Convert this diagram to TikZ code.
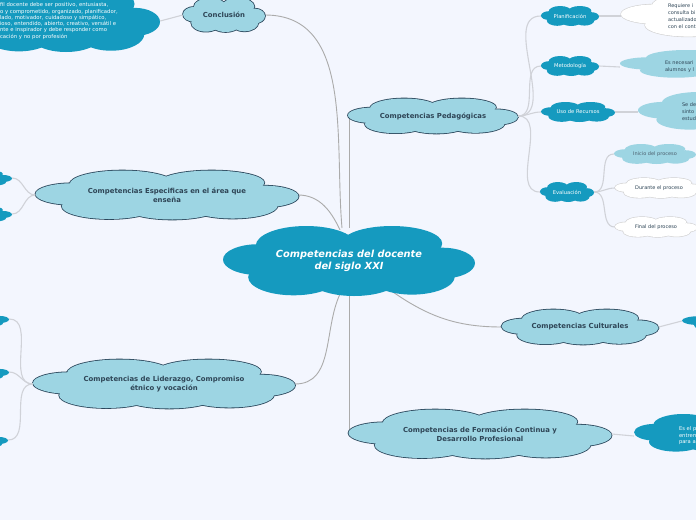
\documentclass[tikz,border=0pt]{standalone}
\usepackage{fontspec}
\setmainfont{DejaVu Sans}
\definecolor{bgc}{HTML}{F3F6FE}
\definecolor{darkc}{HTML}{159ABF}
\definecolor{lightc}{HTML}{9DD5E3}
\definecolor{edgec}{HTML}{2B475C}
\definecolor{textc}{HTML}{2E4556}
\definecolor{linec}{HTML}{ABABAB}
\definecolor{sublinec}{HTML}{D0D2D8}
% lobes of a cloud: centre x/centre y/x radius/y radius, in units of width and height
\def\puffs{0/0/0.40/0.30, -0.36/-0.02/0.14/0.22, 0.37/0.03/0.13/0.22,
  -0.17/-0.22/0.20/0.28, 0.17/-0.25/0.20/0.25,
  -0.22/0.23/0.18/0.26, 0.02/0.25/0.18/0.25, 0.25/0.22/0.17/0.26}
% \puffcloud{x}{y}{width}{height}{fill}{edge options}
\newcommand\puffcloud[6]{%
  \begin{scope}[shift={(#1,#2)}, x=#3pt, y=-#4pt]
    \foreach \cx/\cy/\rx/\ry in \puffs
      \path[#6] (\cx,\cy) ellipse [x radius=\rx, y radius=\ry];
    \foreach \cx/\cy/\rx/\ry in \puffs
      \path[fill=#5] (\cx,\cy) ellipse [x radius=\rx, y radius=\ry];
  \end{scope}}
\begin{document}
\begin{tikzpicture}[x=1pt,y=-1pt,
  rim/.style={draw=edgec, line width=1.6pt},
  greyrim/.style={draw=black!18, line width=1.2pt},
  norim/.style={draw=none},
  mainlabel/.style={inner sep=0pt, align=center, text=textc, font=\bfseries\fontsize{6.9}{8.8}\selectfont},
  sublabel/.style={inner sep=0pt, align=center, text=white, font=\fontsize{5.2}{6.5}\selectfont},
  leaflabel/.style={inner sep=0pt, align=center, text=textc, font=\fontsize{5}{7}\selectfont},
  link/.style={draw=linec, line width=0.9pt},
  sublink/.style={draw=sublinec, line width=1.1pt}]
\fill[bgc] (0,0) rectangle (696,520);
\useasboundingbox (0,0) rectangle (696,520);
\clip (0,0) rectangle (696,520);

% links
\draw[link] (224,15) ++(41,0) to[out=0,in=95] (342,228);
\draw[link] (349,116) -- (349,228);
\draw[link] (298,195) to[out=0,in=115] (340,230);
\draw[link] (295,384) to[out=0,in=-115] (340,294);
\draw[link] (349,434) -- (349,294);
\draw[link] (502,327) to[out=180,in=-35] (390,290);

% clouds
\puffcloud{349}{261}{252}{70}{darkc}{norim}
\puffcloud{224}{15}{82}{34}{lightc}{rim}
\puffcloud{433}{116}{170}{35}{lightc}{rim}
\puffcloud{167}{195}{263}{49}{lightc}{rim}
\puffcloud{164}{384}{262}{49}{lightc}{rim}
\puffcloud{580}{327}{157}{35}{lightc}{rim}
\puffcloud{480}{434}{263}{49}{lightc}{rim}
\puffcloud{570}{16}{58}{20}{darkc}{norim}
\puffcloud{570}{66}{58}{20}{darkc}{norim}
\puffcloud{578}{112}{74}{20}{darkc}{norim}
\puffcloud{567}{192}{54}{20}{darkc}{norim}
\puffcloud{655}{154}{82}{20}{lightc}{norim}
\puffcloud{659}{188}{88}{20}{white}{greyrim}
\puffcloud{656}{227}{82}{20}{white}{greyrim}
\puffcloud{741}{15}{240}{44}{white}{greyrim}
\puffcloud{720}{64}{200}{28}{lightc}{norim}
\puffcloud{730}{111}{184}{38}{lightc}{norim}
\puffcloud{62}{20}{196}{64}{darkc}{norim}
\puffcloud{742}{321}{120}{20}{darkc}{norim}
\puffcloud{709}{433}{150}{38}{darkc}{norim}
\puffcloud{-23}{178}{70}{16}{darkc}{norim}
\puffcloud{-23}{214}{70}{16}{darkc}{norim}
\puffcloud{-26}{319}{70}{16}{darkc}{norim}
\puffcloud{-26}{372}{70}{16}{darkc}{norim}
\puffcloud{-27}{440}{70}{16}{darkc}{norim}

% labels
\node[inner sep=0pt, align=center, text=white, font=\bfseries\itshape\fontsize{9.8}{11.8}\selectfont, minimum width=252pt, minimum height=70pt] (cen) at (349,261) {Competencias del docente\\del siglo XXI};
\node[mainlabel, minimum width=82pt] (con) at (224,15) {Conclusión};
\node[mainlabel, minimum width=170pt] (ped) at (433,116) {Competencias Pedagógicas};
\node[mainlabel, minimum width=263pt] (esp) at (167,195) {Competencias Especificas en el área que\\enseña};
\node[mainlabel, minimum width=262pt] (lid) at (164,384) {Competencias de Liderazgo, Compromiso\\étnico y vocación};
\node[mainlabel, minimum width=157pt] (cul) at (580,327) {Competencias Culturales};
\node[mainlabel, minimum width=263pt] (for) at (480,434) {Competencias de Formación Continua y\\Desarrollo Profesional};
\node[sublabel, minimum width=58pt] (pla) at (570,16) {Planificación};
\node[sublabel, minimum width=58pt] (met) at (570,66) {Metodología};
\node[sublabel, minimum width=74pt] (uso) at (578,112) {Uso de Recursos};
\node[sublabel, minimum width=54pt] (eva) at (567,192) {Evaluación};
\node[leaflabel, minimum width=82pt, text=textc!85] (ini) at (655,154) {Inicio del proceso};
\node[leaflabel, minimum width=88pt] (dur) at (659,188) {Durante el proceso};
\node[leaflabel, minimum width=82pt] (fin) at (656,227) {Final del proceso};
\node[leaflabel, minimum width=240pt, text width=146pt, align=left] (req) at (741,16) {Requiere i\\consulta bi\\actualizado\\con el cont};
\node[leaflabel, minimum width=200pt, text width=110pt, align=left] (nec) at (720,67) {Es necesari\\alumnos y l};
\node[leaflabel, minimum width=184pt, text width=96pt, align=left] (sed) at (730,112) {Se de\\sinto\\estud};
\node[sublabel, minimum width=196pt, text width=124pt, align=left, font=\fontsize{5.3}{6.3}\selectfont] (per) at (62,21) {fil docente debe ser positivo, entusiasta,\\o y comprometido, organizado, planificador,\\lado, motivador, cuidadoso y simpático,\\ioso, entendido, abierto, creativo, versátil e\\nte e inspirador y debe responder como\\cación y no por profesión};
\node[sublabel, minimum width=120pt, minimum height=20pt] (cul2) at (742,321) {};
\node[sublabel, minimum width=150pt, text width=60pt, align=left] (esel) at (709,436) {Es el p\\entrem\\para a};
\node[sublabel, minimum width=70pt] (e1) at (-23,178) {};
\node[sublabel, minimum width=70pt] (e2) at (-23,214) {};
\node[sublabel, minimum width=70pt] (l1) at (-26,319) {};
\node[sublabel, minimum width=70pt] (l2) at (-26,372) {};
\node[sublabel, minimum width=70pt] (l3) at (-27,440) {};

% sub links
\draw[sublink] (con.west) -- (per.east);
\draw[sublink] (ped.east) to[out=0,in=180] (pla.west);
\draw[sublink] (ped.east) to[out=0,in=180] (met.west);
\draw[sublink] (ped.east) to[out=0,in=180] (uso.west);
\draw[sublink] (ped.east) to[out=0,in=180] (eva.west);
\draw[sublink] (eva.east) to[out=0,in=180] (ini.west);
\draw[sublink] (eva.east) to[out=0,in=180] (dur.west);
\draw[sublink] (eva.east) to[out=0,in=180] (fin.west);
\draw[sublink] (pla.east) -- (req.west);
\draw[sublink] (met.east) -- (nec.west);
\draw[sublink] (uso.east) -- (sed.west);
\draw[sublink] (cul.east) -- (cul2.west);
\draw[sublink] (for.east) -- (esel.west);
\draw[sublink] (esp.west) to[out=180,in=0] (e1.east);
\draw[sublink] (esp.west) to[out=180,in=0] (e2.east);
\draw[sublink] (lid.west) to[out=180,in=0] (l1.east);
\draw[sublink] (lid.west) to[out=180,in=0] (l2.east);
\draw[sublink] (lid.west) to[out=180,in=0] (l3.east);
\end{tikzpicture}
\end{document}
